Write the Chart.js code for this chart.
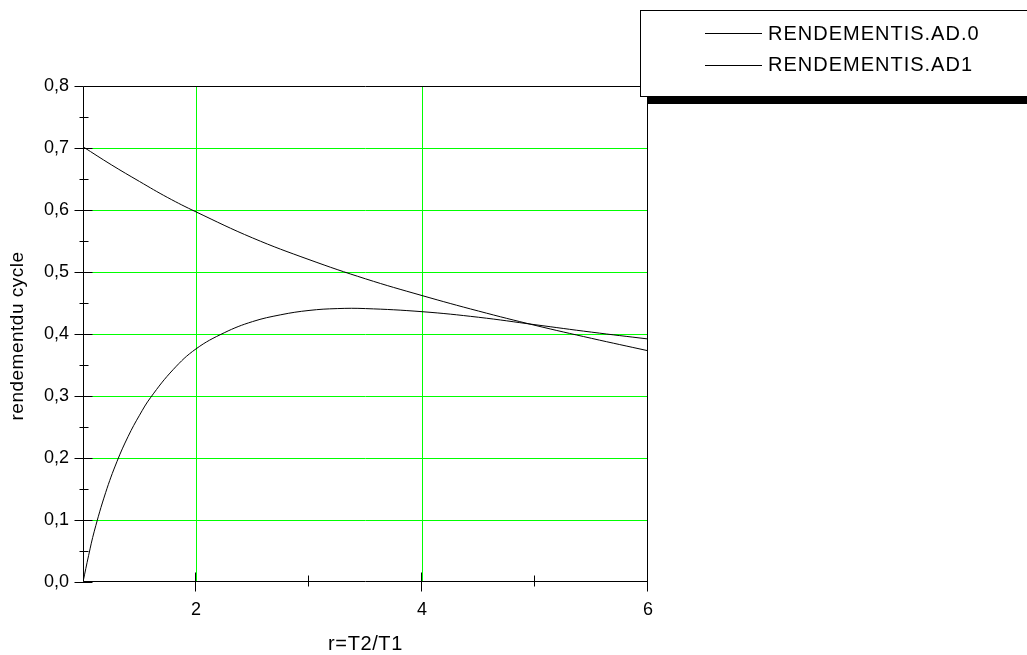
<!DOCTYPE html>
<html>
<head>
<meta charset="utf-8">
<title>rendement du cycle</title>
<script src="https://cdn.jsdelivr.net/npm/chart.js@4.4.1/dist/chart.umd.min.js"></script>
<style>
    html, body { margin: 0; padding: 0; background: #fff; }
    #wrap { width: 1027px; height: 655px; }
</style>
</head>
<body>
<div id="wrap"><canvas id="myChart" width="1027" height="655"></canvas></div>
<script>
// r = T2/T1 and the two efficiency curves
var rValues0 = [1.0, 1.25, 1.5, 1.75, 2.0, 2.5, 3.0, 3.5, 4.0, 4.5, 5.0, 5.5, 6.0];
var rendementAD0 = [0.702, 0.673, 0.646, 0.620, 0.597, 0.555, 0.520, 0.489, 0.462, 0.437, 0.414, 0.393, 0.373];

var rValues1 = [1.0, 1.05, 1.1, 1.2, 1.3, 1.4, 1.5, 1.6, 1.8, 2.0, 2.25, 2.5, 2.75, 3.0, 3.25, 3.5, 4.0, 4.5, 5.0, 5.5, 6.0];
var rendementAD1 = [0, 0.043, 0.082, 0.144, 0.194, 0.235, 0.269, 0.298, 0.343, 0.376, 0.402, 0.420, 0.431, 0.438, 0.441, 0.441, 0.436, 0.427, 0.415, 0.403, 0.392];

var seriesLabels = ['RENDEMENTIS.AD.0', 'RENDEMENTIS.AD1'];
var xTitle = 'r=T2/T1';
var yTitle = 'rendementdu cycle';
var xLabelled = [2, 4, 6];
var xGridAt = [2, 4];

function toPoints(xs, ys) {
    return xs.map(function(x, i) { return { x: x, y: ys[i] }; });
}

var FONT = '"Liberation Sans", Arial, sans-serif';

// black frame, ticks, axis titles and the boxed legend
var framePlugin = {
    id: 'frame',
    afterDraw: function(chart) {
        var ctx = chart.ctx;
        var xs = chart.scales.x, ys = chart.scales.y;
        var a = chart.chartArea;
        var L = Math.round(a.left) + 0.5, R = Math.round(a.right) - 0.5;
        var T = Math.round(a.top) + 0.5, B = Math.round(a.bottom) - 0.5;
        ctx.save();
        ctx.strokeStyle = '#000';
        ctx.lineWidth = 1;
        ctx.beginPath();
        ctx.rect(L, T, R - L, B - T);
        ctx.stroke();

        ctx.beginPath();
        for (var v = 0; v <= 8; v++) {
            var py = Math.round(ys.getPixelForValue(v / 10)) + 0.5;
            ctx.moveTo(L - 9, py); ctx.lineTo(v === 8 ? L : L + 9, py);
            if (v < 8) {
                var pm = Math.round(ys.getPixelForValue(v / 10 + 0.05)) + 0.5;
                ctx.moveTo(L - 4, pm); ctx.lineTo(L + 5, pm);
            }
        }
        for (var t = 2; t <= 6; t++) {
            var px = Math.round(xs.getPixelForValue(t)) - 0.5;
            if (t % 2 === 0) { ctx.moveTo(px, B - 9); ctx.lineTo(px, B + 10); }
            else { ctx.moveTo(px, B - 6); ctx.lineTo(px, B + 5); }
        }
        ctx.stroke();

        // axis titles
        ctx.fillStyle = '#000';
        ctx.font = '20px ' + FONT;
        ctx.letterSpacing = '0.6px';
        ctx.textAlign = 'center';
        ctx.textBaseline = 'middle';
        ctx.fillText(xTitle, (a.left + a.right) / 2, 644);
        ctx.save();
        ctx.translate(18, 336);
        ctx.rotate(-Math.PI / 2);
        ctx.font = '19px ' + FONT;
        ctx.letterSpacing = '0.5px';
        ctx.fillText(yTitle, 0, 0);
        ctx.restore();

        // legend box with heavy shadow
        ctx.fillStyle = '#000';
        ctx.fillRect(648, 97, 379, 7);
        ctx.fillStyle = '#fff';
        ctx.fillRect(641, 10, 400, 87);
        ctx.strokeStyle = '#000';
        ctx.strokeRect(640.5, 10.5, 400, 86);
        ctx.fillStyle = '#000';
        ctx.textAlign = 'left';
        ctx.font = '20px ' + FONT;
        ctx.letterSpacing = '1px';
        chart.data.datasets.forEach(function(ds, i) {
            var ly = 33 + i * 31.5;
            ctx.beginPath();
            ctx.moveTo(705, Math.round(ly) + 0.5);
            ctx.lineTo(762, Math.round(ly) + 0.5);
            ctx.stroke();
            ctx.fillText(ds.label, 768, ly + 1);
        });
        ctx.restore();
    }
};

var config = {
    type: 'line',
    data: {
        datasets: [{
            label: seriesLabels[0],
            data: toPoints(rValues0, rendementAD0),
            borderColor: '#000',
            borderWidth: 1,
            pointRadius: 0,
            tension: 0.4
        }, {
            label: seriesLabels[1],
            data: toPoints(rValues1, rendementAD1),
            borderColor: '#000',
            borderWidth: 1,
            pointRadius: 0,
            tension: 0.4
        }]
    },
    options: {
        responsive: false,
        animation: false,
        layout: { padding: { left: 0, top: 86, right: 379, bottom: 0 } },
        plugins: { legend: { display: false }, tooltip: { enabled: false } },
        scales: {
            x: {
                type: 'linear',
                min: 1,
                max: 6,
                afterFit: function(s) { s.height = 73; },
                border: { display: false },
                grid: {
                    drawTicks: false,
                    lineWidth: 1,
                    color: function(c) {
                        return xGridAt.indexOf(c.tick.value) >= 0 ? '#00ff00' : 'rgba(0,0,0,0)';
                    }
                },
                ticks: {
                    stepSize: 1,
                    padding: 17,
                    maxRotation: 0,
                    color: '#000',
                    font: { family: FONT, size: 18 },
                    callback: function(v) { return xLabelled.indexOf(v) >= 0 ? String(v) : ''; }
                }
            },
            y: {
                min: 0,
                max: 0.8,
                afterFit: function(s) { s.width = 83; },
                border: { display: false },
                grid: {
                    drawTicks: false,
                    lineWidth: 1,
                    color: function(c) {
                        var v = c.tick.value;
                        return (v > 0.05 && v < 0.75) ? '#00ff00' : 'rgba(0,0,0,0)';
                    }
                },
                ticks: {
                    stepSize: 0.1,
                    padding: 14,
                    color: '#000',
                    font: { family: FONT, size: 18 },
                    callback: function(v) { return v.toFixed(1).replace('.', ','); }
                }
            }
        }
    },
    plugins: [framePlugin]
};

var myChart = new Chart(document.getElementById('myChart'), config);
</script>
</body>
</html>
